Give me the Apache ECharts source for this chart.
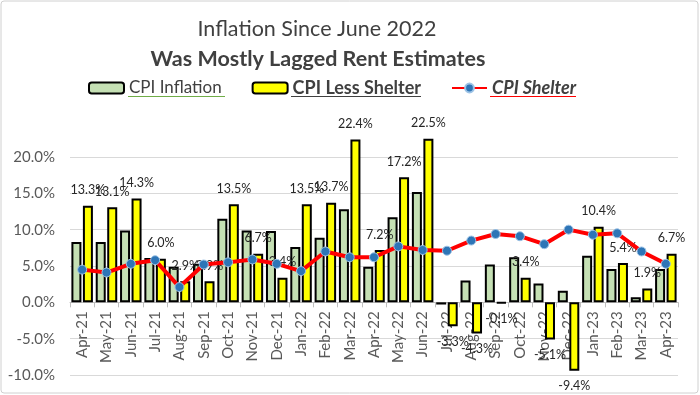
<!DOCTYPE html>
<html>
<head>
<meta charset="utf-8">
<script src="https://cdn.jsdelivr.net/npm/echarts@6/dist/echarts.min.js"></script>
<style>html,body{margin:0;padding:0;background:#fff}#c{width:700px;height:395px}</style>
</head>
<body>
<div id="c"></div>
<script>
const months = ['Apr-21','May-21','Jun-21','Jul-21','Aug-21','Sep-21','Oct-21','Nov-21','Dec-21','Jan-22','Feb-22','Mar-22','Apr-22','May-22','Jun-22','Jul-22','Aug-22','Sep-22','Oct-22','Nov-22','Dec-22','Jan-23','Feb-23','Mar-23','Apr-23'];
const cpiInflation = [8.3, 8.3, 9.9, 6.1, 4.9, 5.3, 11.5, 9.9, 9.8, 7.6, 8.9, 12.8, 4.9, 11.7, 15.2, -0.3, 3.0, 5.2, 6.2, 2.6, 1.6, 6.4, 4.6, 0.7, 4.6];
const cpiLessShelter = [13.3, 13.1, 14.3, 6.0, 2.9, 2.9, 13.5, 6.7, 3.4, 13.5, 13.7, 22.4, 7.2, 17.2, 22.5, -3.3, -4.3, -0.1, 3.4, -5.1, -9.4, 10.4, 5.4, 1.9, 6.7];
const cpiShelter = [4.5, 4.1, 5.3, 5.8, 2.1, 5.2, 5.5, 5.9, 5.3, 4.3, 7.0, 6.2, 6.2, 7.7, 7.2, 7.1, 8.5, 9.4, 9.1, 8.0, 10.0, 9.3, 9.5, 7.0, 5.3];
const yTicks = [-10, -5, 0, 5, 10, 15, 20];

const FONT = 'Lato';
const GRID_TOP = 157, GRID_BOTTOM = 20, Y_MIN = -10, Y_MAX = 20;
// shift the category axis (line, ticks, labels) up to the 0% level
const zeroOffset = -(395 - GRID_TOP - GRID_BOTTOM) * (0 - Y_MIN) / (Y_MAX - Y_MIN);

const chart = echarts.init(document.getElementById('c'), null, {renderer: 'canvas'});
chart.setOption({
  backgroundColor: '#fff',
  animation: false,
  title: [
    {text: 'Inflation Since June 2022', left: 312, top: 13, textAlign: 'center',
     textStyle: {fontFamily: FONT, fontSize: 21.5, fontWeight: 'normal', color: '#404040'}},
    {text: 'Was Mostly Lagged Rent Estimates', left: 313, top: 43, textAlign: 'center',
     textStyle: {fontFamily: FONT, fontSize: 21.5, fontWeight: 'bold', color: '#404040'}}
  ],
  legend: {
    left: 88, top: 79, padding: 0, itemWidth: 35, itemHeight: 11, itemGap: 30,
    textStyle: {fontFamily: FONT, fontSize: 17, color: '#404040'},
    data: [
      {name: 'CPI Inflation'},
      {name: 'CPI Less Shelter', textStyle: {fontWeight: 'bold', fontSize: 18}},
      {name: 'CPI Shelter', textStyle: {fontWeight: 'bold', fontStyle: 'italic', fontSize: 18}}
    ]
  },
  graphic: [
    {type: 'rect', shape: {x: 1, y: 1, width: 697, height: 392, r: 3}, style: {fill: 'none', stroke: '#d0d0d0', lineWidth: 1}, silent: true},
    {type: 'line', shape: {x1: 128, y1: 96.5, x2: 225, y2: 96.5}, style: {stroke: '#70ad47', lineWidth: 1}},
    {type: 'line', shape: {x1: 291, y1: 96.5, x2: 421, y2: 96.5}, style: {stroke: '#404040', lineWidth: 1}},
    {type: 'line', shape: {x1: 490, y1: 96.5, x2: 576, y2: 96.5}, style: {stroke: '#ff0000', lineWidth: 1}}
  ],
  grid: {left: 70, right: 22, top: GRID_TOP, bottom: GRID_BOTTOM, outerBoundsMode: 'none', containLabel: false},
  xAxis: {
    type: 'category', data: months, offset: zeroOffset,
    axisLine: {onZero: false, lineStyle: {color: '#bfbfbf', width: 1}},
    axisTick: {show: true, length: 5, lineStyle: {color: '#bfbfbf'}},
    axisLabel: {rotate: 90, margin: 9, fontFamily: FONT, fontSize: 15, color: '#595959', interval: 0}
  },
  yAxis: {
    type: 'value', min: Y_MIN, max: Y_MAX, interval: 5,
    axisLine: {show: false}, axisTick: {show: false},
    splitLine: {lineStyle: {color: '#d9d9d9', width: 1}},
    axisLabel: {margin: 15, fontFamily: FONT, fontSize: 15, color: '#595959',
      formatter: v => yTicks.indexOf(v) >= 0 ? v.toFixed(1) + '%' : ''}
  },
  series: [
    {name: 'CPI Inflation', type: 'bar', data: cpiInflation, barWidth: 10, barGap: '15%', clip: false,
     itemStyle: {color: '#c5e0b4', borderColor: '#000', borderWidth: 2}},
    {name: 'CPI Less Shelter', type: 'bar', data: cpiLessShelter, barWidth: 10, clip: false,
     itemStyle: {color: '#ffff00', borderColor: '#000', borderWidth: 2},
     label: {show: true, position: 'outside', distance: 9, fontFamily: FONT, fontSize: 12.5, color: '#262626',
       formatter: p => p.value.toFixed(1) + '%'}},
    {name: 'CPI Shelter', type: 'line', data: cpiShelter, z: 5,
     lineStyle: {color: '#ff0000', width: 4},
     symbol: 'circle', symbolSize: 9,
     itemStyle: {color: '#2e75b6', borderColor: '#9dc3e6', borderWidth: 1}}
  ]
});
</script>
</body>
</html>
